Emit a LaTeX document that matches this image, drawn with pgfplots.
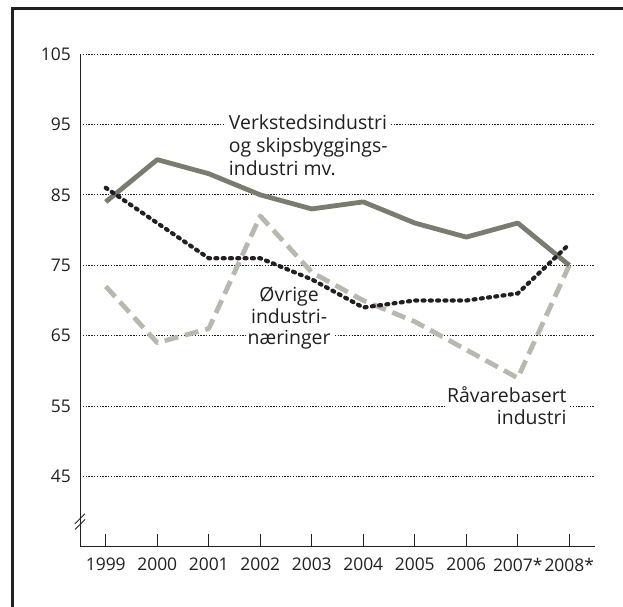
\documentclass[border=0pt]{standalone}
\usepackage{fontspec}
\setmainfont{Open Sans}
\usepackage{pgfplots}
\pgfplotsset{compat=1.18}
\definecolor{txt}{HTML}{231F20}
\definecolor{vcol}{HTML}{7A7C70}
\definecolor{rcol}{HTML}{B8B9AE}
\begin{document}
\begin{tikzpicture}[x=1bp,y=1bp]
\useasboundingbox (0,0) rectangle (623,607);
\draw[line width=3bp, txt, line join=miter] (12,-2) -- (12,598) -- (625,598);
\begin{axis}[
  at={(80bp,60bp)}, anchor=south west,
  scale only axis, width=515bp, height=493bp,
  xmin=-0.5, xmax=9.5, ymin=35, ymax=105,
  xtick={0,...,9},
  xticklabels={1999,2000,2001,2002,2003,2004,2005,2006,2007*,2008*},
  ytick={45,55,...,105},
  axis lines*=left,
  axis line style={txt, line width=1bp},
  tick align=inside,
  major tick length=13bp,
  xtick style={txt, line width=1bp},
  ytick style={draw=none},
  ymajorgrids,
  grid style={txt, line width=0.9bp, dash pattern=on 1.3bp off 1.5bp},
  tick label style={font=\fontsize{17.5}{20}\selectfont, text=txt},
  /pgf/number format/assume math mode=true,
  yticklabel style={anchor=east, inner sep=0pt, xshift=-9bp},
  xticklabel style={anchor=north, inner sep=0pt, yshift=-11bp},
  clip=false,
]
% labels with white background to interrupt grid
\node[fill=white, anchor=base west, align=left, inner xsep=3bp, inner ysep=2bp,
  font=\fontsize{19.5}{23}\selectfont, text=txt] at (axis cs:2.33,87.8)
  {Verkstedsindustri\\og skipsbyggings-\\industri mv.};
\node[fill=white, anchor=base, align=center, inner xsep=2bp, inner ysep=1bp,
  font=\fontsize{19.5}{21.5}\selectfont, text=txt] at (axis cs:3.56,63.75)
  {Øvrige\\industri-\\næringer};
\node[fill=white, anchor=base east, align=right, inner xsep=2bp, inner ysep=2bp,
  font=\fontsize{19.5}{22}\selectfont, text=txt] at (axis cs:8.99,52.37)
  {Råvarebasert\\industri};
% axis break
\draw[txt, line width=0.9bp] ([xshift=-5bp,yshift=-5bp]axis cs:-0.5,38.2) -- ([xshift=5bp,yshift=5bp]axis cs:-0.5,38.2);
\draw[txt, line width=0.9bp] ([xshift=-5bp,yshift=-5bp]axis cs:-0.5,39.0) -- ([xshift=5bp,yshift=5bp]axis cs:-0.5,39.0);
% Råvarebasert industri
\addplot[rcol, line width=4.8bp, dash pattern=on 14bp off 7bp, line join=round] coordinates {
 (0,72) (1,64) (2,66) (3,82) (4,74) (5,70) (6,67) (7,63) (8,59) (9,75)};
% Verkstedsindustri
\addplot[vcol, line width=4.8bp, line join=round] coordinates {
 (0,84) (1,90) (2,88) (3,85) (4,83) (5,84) (6,81) (7,79) (8,81) (9,75)};
% Øvrige industrinæringer
\addplot[txt, line width=4.2bp, line cap=round, dash pattern=on 2bp off 5.3bp] coordinates {
 (0,86) (1,81) (2,76) (3,76) (4,73) (5,69) (6,70) (7,70) (8,71) (9,78)};
\end{axis}
\end{tikzpicture}
\end{document}
